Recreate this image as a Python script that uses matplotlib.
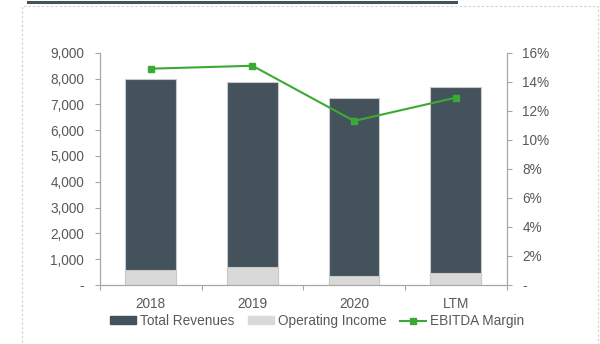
import matplotlib
matplotlib.use("Agg")
import matplotlib.pyplot as plt
from matplotlib.ticker import FuncFormatter, MultipleLocator
from matplotlib.patches import Rectangle
from matplotlib.lines import Line2D

plt.rcParams['font.family'] = ['Liberation Sans', 'DejaVu Sans']

# periods and figures
periods = ['2018', '2019', '2020', 'LTM']
revenues = [7990, 7880, 7260, 7690]
op_income = [580, 690, 350, 480]
ebitda_margin = [14.9, 15.1, 11.3, 12.9]

dark = '#44525c'
light = '#d9d9d9'
green = '#3aaa35'
grey_txt = '#595959'
axis_col = '#a6a6a6'
fs = 9.8

fig = plt.figure(figsize=(6.0, 3.44), dpi=100)
ax = fig.add_axes([100/600, 1 - 285/344, 406.5/600, (285 - 52.7)/344])

x = range(len(periods))
ax.bar(x, revenues, width=0.5, color=dark, edgecolor='#c8cbce', linewidth=0.8,
       label='Total Revenues', zorder=2)
ax.bar(x, op_income, width=0.5, color=light, edgecolor='#c8c8c8', linewidth=0.8,
       label='Operating Income', zorder=3)

ax.set_xlim(-0.5, len(periods) - 0.5)
ax.set_ylim(0, 9000)
ax.yaxis.set_major_locator(MultipleLocator(1000))
ax.yaxis.set_major_formatter(FuncFormatter(lambda v, p: '-' if v == 0 else f'{v:,.0f}'))

ax.set_xticks(list(x))
ax.set_xticklabels(periods)
ax.set_xticks([i + 0.5 for i in range(-1, len(periods))], minor=True)
ax.tick_params(axis='x', which='major', length=0, pad=9, labelsize=fs, labelcolor=grey_txt)
ax.tick_params(axis='x', which='minor', length=3.5, color=axis_col, width=0.8)
ax.tick_params(axis='y', length=3.5, color=axis_col, width=0.8, labelsize=fs,
               labelcolor=grey_txt, pad=8)

for s in ['left', 'bottom', 'right']:
    ax.spines[s].set_color(axis_col)
    ax.spines[s].set_linewidth(0.8)
ax.spines['top'].set_visible(False)

ax2 = ax.twinx()
ax2.plot(list(x), ebitda_margin, color=green, linewidth=1.5, marker='s',
         markersize=5, label='EBITDA Margin', zorder=4)
ax2.set_ylim(0, 16)
ax2.yaxis.set_major_locator(MultipleLocator(2))
ax2.yaxis.set_major_formatter(FuncFormatter(lambda v, p: '-' if v == 0 else f'{v:.0f}%'))
ax2.tick_params(axis='y', length=3.5, color=axis_col, width=0.8, labelsize=fs,
                labelcolor=grey_txt, pad=8)
for s in ['left', 'bottom', 'right']:
    ax2.spines[s].set_color(axis_col)
    ax2.spines[s].set_linewidth(0.8)
ax2.spines['top'].set_visible(False)

handles = [Rectangle((0, 0), 1, 1, color=dark),
           Rectangle((0, 0), 1, 1, color=light),
           Line2D([], [], color=green, linewidth=1.5, marker='s', markersize=4)]
labels = ['Total Revenues', 'Operating Income', 'EBITDA Margin']
fig.legend(handles, labels, loc='center', bbox_to_anchor=(317/600, 1 - 321/344),
           ncol=3, frameon=False, fontsize=fs, labelcolor=grey_txt,
           handlelength=1.9, handleheight=0.5, handletextpad=0.3, columnspacing=1.0)

# page frame and heading rule
fig.add_artist(Rectangle((22/600, -0.1), 576/600, 1.1 - 6/344, transform=fig.transFigure,
                         fill=False, edgecolor='#cfcfcf', linewidth=0.8, linestyle=(0, (2, 2))))
fig.add_artist(Line2D([28/600, 456/600], [1 - 2/344, 1 - 2/344], transform=fig.transFigure,
                      color='#44525c', linewidth=2.2))

fig.savefig('out.png', dpi=100)
